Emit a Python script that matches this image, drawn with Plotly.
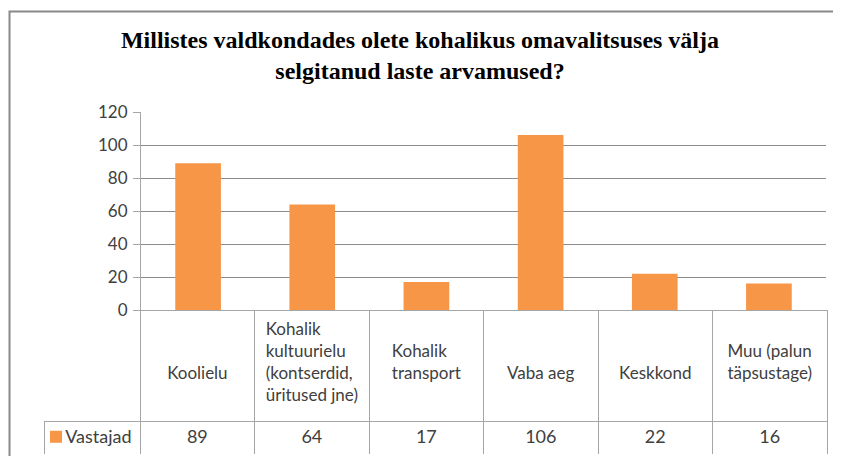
import plotly.graph_objects as go

# ---- data ----
categories = ["Koolielu",
              "Kohalik<br>kultuurielu<br>(kontserdid,<br>üritused jne)",
              "Kohalik<br>transport",
              "Vaba aeg",
              "Keskkond",
              "Muu (palun<br>täpsustage)"]
values = [89, 64, 17, 106, 22, 16]
series_name = "Vastajad"
y_ticks = [0, 20, 40, 60, 80, 100, 120]
title_text = "Millistes valdkondades olete kohalikus omavalitsuses välja<br>selgitanud laste arvamused?"

OFF = 8  # page body margin offset
W, H = 841 - OFF, 456 - OFF
ORANGE = "#F79646"
TXT = "#404040"
GRID = "#8c8c8c"
TBL = "#a6a6a6"
FONT = "Lato"
NB = "\u00a0"


def px_x(p):
    return (p - OFF) / W


def px_y(p):
    return (H - (p - OFF)) / H


x_idx = list(range(len(categories)))

fig = go.Figure()

fig.add_trace(go.Bar(
    x=x_idx, y=values, name=NB,
    marker=dict(color=ORANGE, line=dict(width=0)),
    showlegend=True, hoverinfo="skip",
))


def pad_label(lbl):
    n = lbl.count("<br>") + 1
    extra = {1: 2, 2: 1}.get(n, 0)
    return (NB + "<br>") * extra + lbl


header_vals = [""] + [pad_label(c) for c in categories]
cell_vals = [[NB * 3 + series_name]] + [[str(v)] for v in values]
col_w = [96] + [114.33] * len(categories)

fig.add_trace(go.Table(
    domain=dict(x=[px_x(44), px_x(827)], y=[px_y(454), px_y(310)]),
    columnwidth=col_w,
    header=dict(
        values=header_vals,
        height=111,
        align="center",
        fill=dict(color=["rgba(0,0,0,0)"] + ["white"] * len(categories)),
        line=dict(color=["rgba(0,0,0,0)"] + [TBL] * len(categories), width=1),
        font=dict(family=FONT, size=17, color=TXT),
    ),
    cells=dict(
        values=cell_vals,
        height=33,
        align=["left"] + ["center"] * len(categories),
        fill=dict(color="white"),
        line=dict(color=TBL, width=1),
        font=dict(family=FONT, size=18, color=TXT),
    ),
))

fig.update_layout(
    template="none",
    width=W, height=H,
    margin=dict(l=0, r=0, t=0, b=0, autoexpand=False),
    paper_bgcolor="white", plot_bgcolor="white",
    bargap=0.6,
    title=dict(
        text="<b>" + title_text + "</b>",
        x=px_x(420), xanchor="center", xref="paper",
        y=px_y(48), yanchor="top", yref="container",
        font=dict(family="Liberation Serif, serif", size=24, color="black"),
    ),
    legend=dict(
        x=px_x(36), xanchor="left", y=px_y(437), yanchor="middle",
        bgcolor="rgba(0,0,0,0)", borderwidth=0,
        font=dict(family=FONT, size=18, color=TXT),
        itemclick=False, itemdoubleclick=False,
    ),
    xaxis=dict(
        domain=[px_x(141), px_x(826)],
        range=[-0.5, len(categories) - 0.5],
        showticklabels=False, showgrid=False, zeroline=False,
        showline=False, ticks="", automargin=False,
    ),
    yaxis=dict(
        domain=[px_y(310), px_y(112)],
        range=[0, 120], tickvals=y_ticks,
        showgrid=True, gridcolor=GRID, gridwidth=1,
        zeroline=False, automargin=False,
        showline=True, linecolor=TBL, linewidth=1,
        ticks="outside", ticklen=7, tickcolor=TBL,
        tickfont=dict(family=FONT, size=17, color=TXT),
        ticklabelstandoff=2,
    ),
    shapes=[dict(
        type="rect", xref="paper", yref="paper",
        x0=px_x(9.5), x1=1.5, y0=-0.5, y1=px_y(11.5),
        line=dict(color="#898989", width=2), fillcolor="rgba(0,0,0,0)",
        layer="above",
    )],
)

fig.write_html("out.html")
